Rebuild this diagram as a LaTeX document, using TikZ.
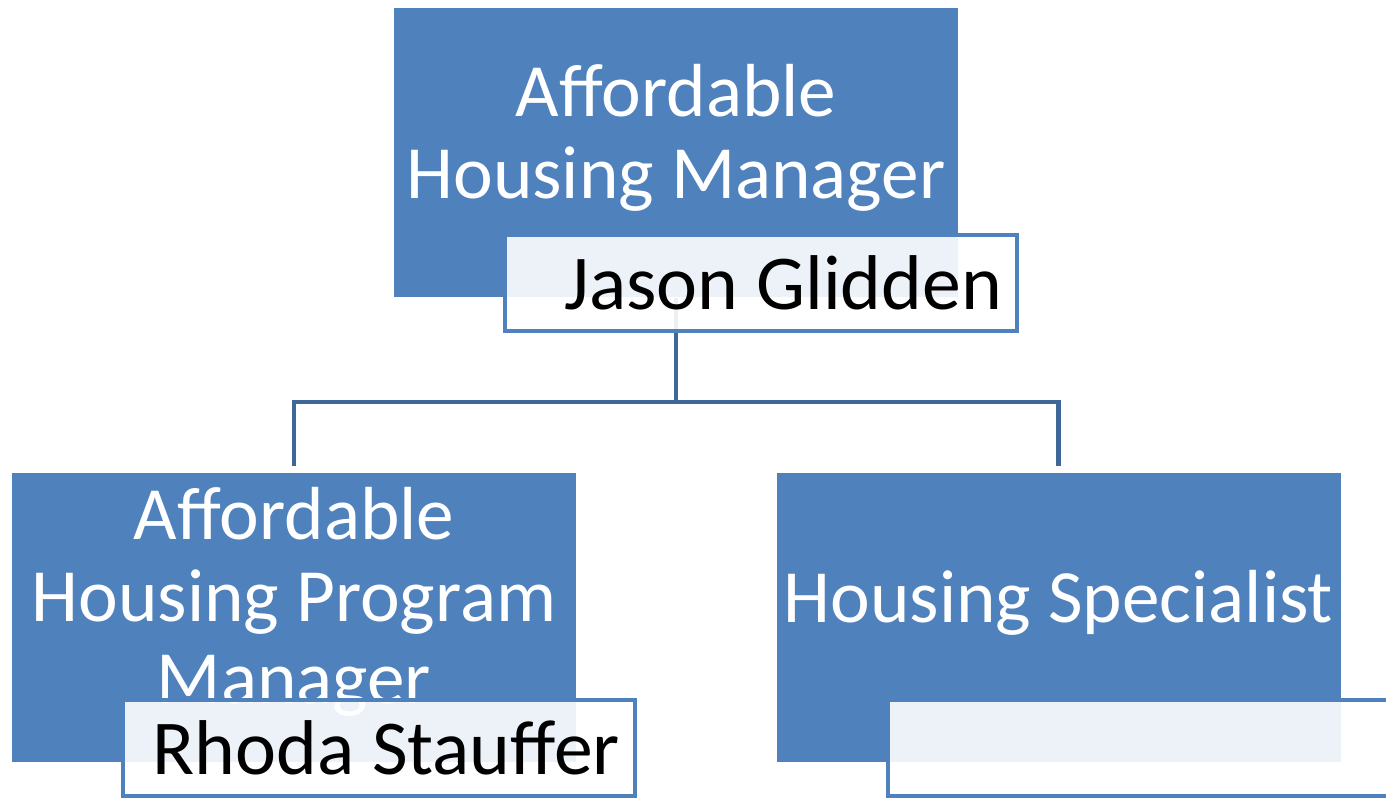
\documentclass[tikz,border=0pt]{standalone}
\usepackage{fontspec}
\setmainfont{Carlito}
\usepackage{xcolor}
\usepackage{tikz}
\definecolor{boxblue}{RGB}{79,129,189}
\definecolor{lineblue}{RGB}{63,103,151}
\tikzset{
    rolebox/.style = {rectangle, fill=boxblue, inner sep=0pt, minimum width=5.64cm, minimum height=2.89cm},
    roletext/.style = {align=center, text=white, inner sep=0pt, font=\fontsize{21.4pt}{23.3pt}\selectfont},
    namebox/.style = {rectangle, draw=boxblue, line width=1.15pt, fill=white, fill opacity=0.9, text opacity=1, text=black, minimum width=5.12cm, minimum height=0.96cm, text width=4.82cm, align=flush right, inner xsep=0.15cm, inner ysep=0pt, font=\fontsize{22.1pt}{23.3pt}\selectfont},
}
\begin{document}
\begin{tikzpicture}[
	thick
]
\tikzset{
    connector/.style = {-, line width=1.4pt, lineblue},
}
\useasboundingbox (0,0) rectangle (13.86,-7.98);
\clip (0,0) rectangle (13.86,-7.98);
% boxes
\node[rolebox] at (6.76,-1.525) (topbox) {};
\node[rolebox] at (2.94,-6.175) (leftbox) {};
\node[rolebox] at (10.585,-6.175) (rightbox) {};
% titles
\node[roletext] at (6.76,-1.38) (toptext) {Affordable\\Housing Manager};
\node[roletext] at (2.94,-6.02) (lefttext) {Affordable\\Housing Program\\Manager};
\node[roletext] at (10.585,-6.03) (righttext) {Housing Specialist};
%
\coordinate (fork) at (6.76,-4.02);
\draw[connector] (topbox.south) -- (fork);
\draw[connector, shorten >=0.06cm] (fork) -| (leftbox.north);
\draw[connector, shorten >=0.06cm] (fork) -| (rightbox.north);
% names
\node[namebox] at (7.61,-2.83) (topname) {Jason Glidden};
\node[namebox] at (3.79,-7.48) (leftname) {Rhoda Stauffer};
\node[namebox] at (11.44,-7.48) (rightname) {};
\end{tikzpicture}
\end{document}
